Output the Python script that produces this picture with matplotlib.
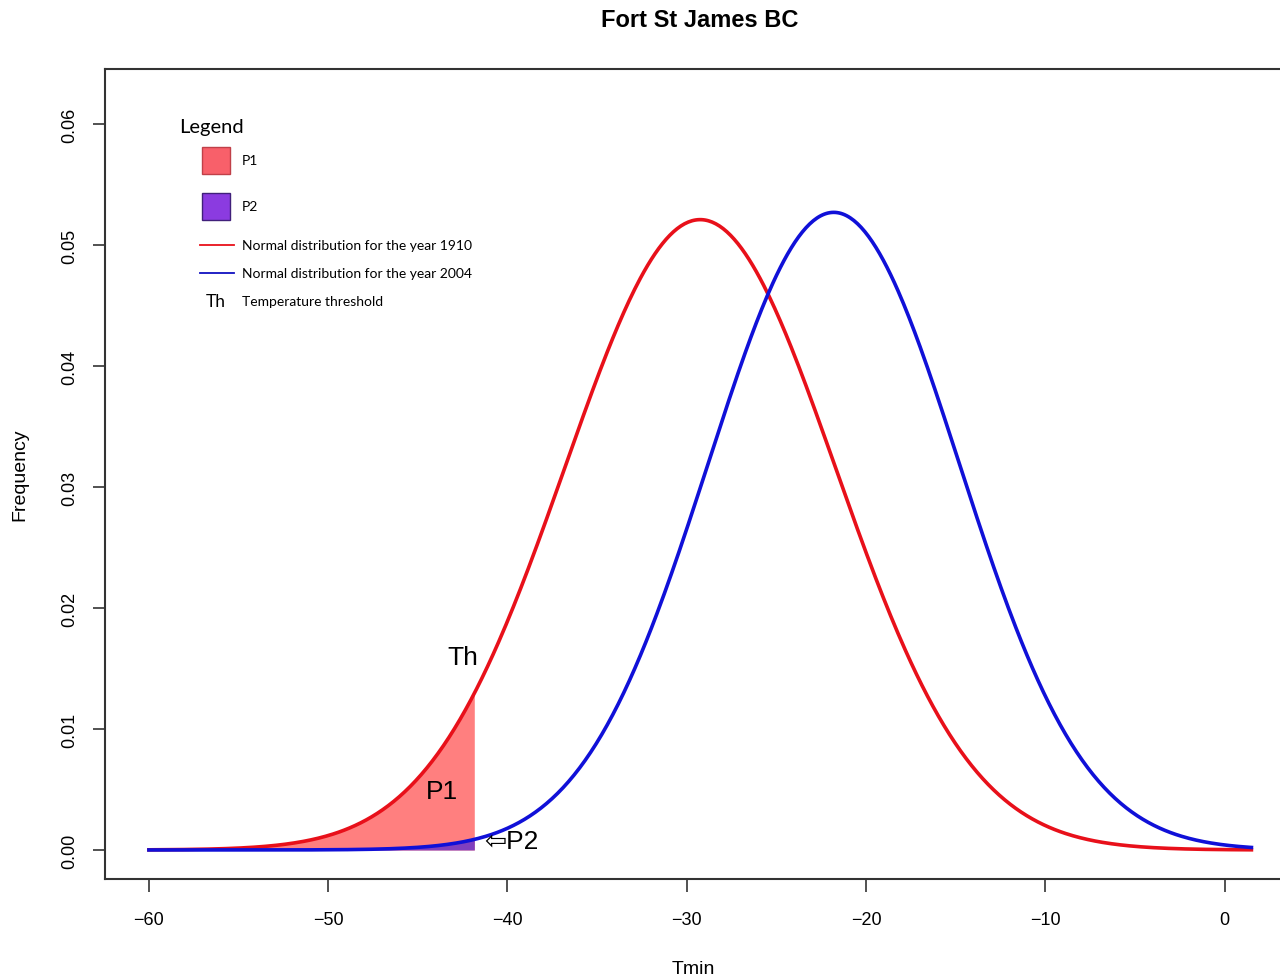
import numpy as np
import matplotlib
matplotlib.use('Agg')
import matplotlib.pyplot as plt
from matplotlib.patches import Rectangle

plt.rcParams['font.family'] = ['Liberation Sans', 'DejaVu Sans']

# bell curves (centre, spread, peak height)
mean_1910 = -29.25
sd_1910 = 7.55
peak_1910 = 0.0521
mean_2004 = -21.8
sd_2004 = 7.0
peak_2004 = 0.0527
threshold = -41.85
x_start = -60
x_end = 1.5

x_ticks = [-60, -50, -40, -30, -20, -10, 0]
y_ticks = [0.00, 0.01, 0.02, 0.03, 0.04, 0.05, 0.06]


def bell(x, mu, sd, peak):
    return peak * np.exp(-0.5 * ((x - mu) / sd) ** 2)


t = np.linspace(x_start, x_end, 600)
red_y = bell(t, mean_1910, sd_1910, peak_1910)
blue_y = bell(t, mean_2004, sd_2004, peak_2004)
tail = np.linspace(x_start, threshold, 200)

fig = plt.figure(figsize=(12.8, 9.78), dpi=100)
ax = fig.add_axes([105 / 1280, 98 / 978, 1176 / 1280, 810 / 978])

ax.fill_between(tail, 0, bell(tail, mean_1910, sd_1910, peak_1910), color='#FF7F7F', lw=0)
ax.fill_between(tail, 0, bell(tail, mean_2004, sd_2004, peak_2004), color='#7F3FBF', lw=0)
ax.plot(t, red_y, color='#E8101A', lw=2.6)
ax.plot(t, blue_y, color='#1010D8', lw=2.6)

ax.set_xlim(-62.45, 3.15)
ax.set_ylim(-0.0024, 0.06455)
ax.set_xticks(x_ticks)
ax.set_yticks(y_ticks)
ax.set_yticklabels(['%.2f' % v for v in y_ticks], rotation=90, va='center')
ax.tick_params(length=9, width=1.2, labelsize=13, pad=10, color='#333333')
ax.tick_params(axis='x', pad=14)
for s in ax.spines.values():
    s.set_linewidth(1.5)
    s.set_color('#333333')
ax.spines['right'].set_visible(False)

ax.set_xlabel('Tmin', fontsize=14, labelpad=23)
ax.set_ylabel('Frequency', fontsize=14, labelpad=24)
fig.text(0.547, 0.979, 'Fort St James BC', ha='center', va='center',
         fontsize=17, fontweight='bold')

# annotations on the curves
ax.text(threshold + 0.2, bell(threshold, mean_1910, sd_1910, peak_1910) + 0.002, 'Th',
        ha='right', va='bottom', fontsize=19)
ax.text(threshold - 1.8, 0.0049, 'P1', ha='center', va='center', fontsize=19)
ax.text(threshold + 0.55, 0.0007, '⇦P2', ha='left', va='center', fontsize=19)

# hand-drawn legend in axes coordinates
def ax_xy(px, py):
    return (px - 105) / 1175, (880 - py) / 810

lg = dict(transform=ax.transAxes, family=['Lato', 'DejaVu Sans'])
ax.text(*ax_xy(179, 128), 'Legend', ha='left', va='center', fontsize=14.5, **lg)
bx, by = ax_xy(202, 175)
ax.add_patch(Rectangle((bx, by), 28 / 1175, 27 / 810, transform=ax.transAxes,
                       facecolor='#F8606A', edgecolor='#C04048', lw=1))
bx, by = ax_xy(202, 221)
ax.add_patch(Rectangle((bx, by), 28 / 1175, 27 / 810, transform=ax.transAxes,
                       facecolor='#8B3BE0', edgecolor='#40207A', lw=1))
ax.text(*ax_xy(242, 161), 'P1', ha='left', va='center', fontsize=10, **lg)
ax.text(*ax_xy(242, 207), 'P2', ha='left', va='center', fontsize=10, **lg)
for py, col, lab in [(246, '#E8101A', 'Normal distribution for the year 1910'),
                     (274, '#1010C0', 'Normal distribution for the year 2004')]:
    x0, y0 = ax_xy(200, py)
    x1, _ = ax_xy(234, py)
    ax.plot([x0, x1], [y0, y0], color=col, lw=1.3, transform=ax.transAxes)
    ax.text(*ax_xy(242, py), lab, ha='left', va='center', fontsize=10, **lg)
ax.text(*ax_xy(216, 302), 'Th', ha='center', va='center', fontsize=12.5, **lg)
ax.text(*ax_xy(242, 302), 'Temperature threshold', ha='left', va='center',
        fontsize=10, **lg)

fig.savefig('out.png', dpi=100)
